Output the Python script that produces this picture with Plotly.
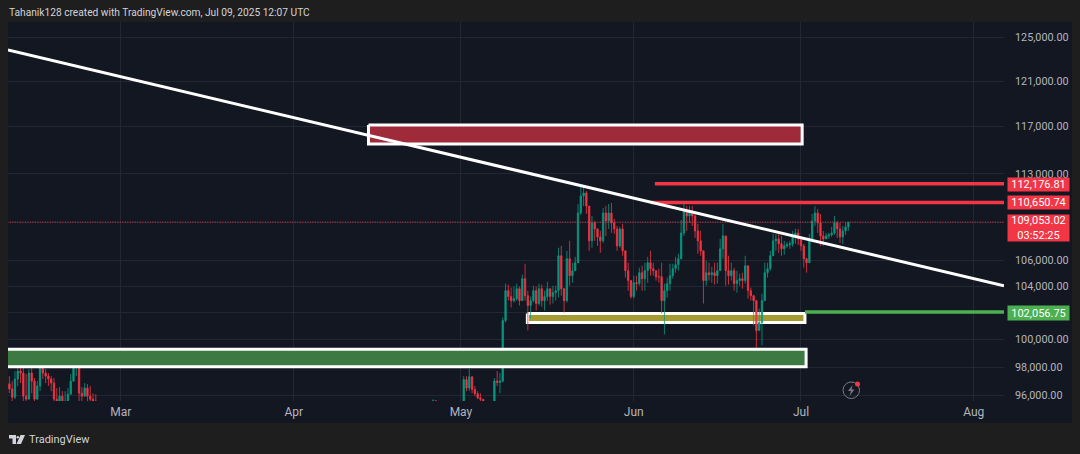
import math

import pandas as pd
import plotly.graph_objects as go

# feb candles (12h), lows run off the bottom of the pane
feb_open = [96800, 96430, 95850, 97140, 97710, 97570, 95920, 95710, 97570, 96990, 95710, 96640, 98300, 97570, 97350, 97140,
            96850, 95710, 95570, 95920, 95430, 95570, 96060, 96990, 98080, 98300, 96130, 95920, 96500, 95920, 95710, 95570]
feb_high = [97350, 96990, 97710, 98440, 98440, 98220, 97500, 97860, 97940, 97210, 96990, 98850, 97860, 97860, 97570, 97350,
            97210, 96500, 96570, 96275, 96275, 96500, 97500, 98440, 98700, 99390, 96570, 96850, 96780, 96640, 96130, 96060]
feb_low = [96130, 95000, 95710, 96640, 96850, 95000, 95000, 95990, 96130, 95000, 96060, 96275, 97140, 96850, 96640, 96275,
           95000, 95000, 95000, 95000, 95000, 95220, 96430, 97140, 97350, 95000, 95000, 96130, 95000, 95220, 95000, 95000]
feb_close = [96430, 95850, 97140, 97710, 97570, 95920, 95710, 97570, 96990, 95710, 96640, 98300, 97570, 97350, 97140, 96850,
             95710, 95570, 95920, 95430, 95570, 96060, 96990, 98080, 98300, 96130, 95920, 96500, 95920, 95710, 95570, 95430]

# late april to may 8, mostly under the pane
apr_open = [94300, 94500, 95600, 94500, 94200, 94400, 95000, 94700, 94500, 94100, 94000, 94300, 94500,
            97100, 96500, 97300, 96400, 96100, 95800, 95700, 95500, 94800, 94500, 95000, 97000, 96900]
apr_high = [94720, 95710, 95000, 94900, 94800, 94900, 95570, 94900, 94700, 94500, 94600, 94900, 97350,
            97350, 97860, 97140, 96640, 96275, 96130, 95710, 95300, 95000, 95200, 97210, 97710, 97570]
apr_low = [94170, 94300, 94000, 94000, 93900, 94100, 94500, 94200, 93800, 93600, 93700, 94000, 94300,
           96275, 96275, 96130, 95920, 95710, 95570, 95430, 94600, 94200, 94500, 95000, 96640, 96130]
apr_close = [94500, 95600, 94500, 94200, 94400, 94600, 94700, 94500, 94100, 94000, 94300, 94500, 97100,
             96500, 97300, 96400, 96100, 95800, 95700, 95500, 94800, 94500, 95000, 97000, 96900, 97000]

# may 8 12:00 to jul 9 12:00
main_high = [101650, 104220, 104140, 103910, 103990, 104220, 103990, 104910, 105760, 103680, 103230, 104060, 103990, 104220, 104140, 103680,
             104370, 103830, 104060, 104060, 107010, 107160, 103680, 106770, 107560, 105840, 106300, 110520, 111910, 111910, 111580, 110360,
             109550, 109150, 108510, 108350, 110200, 110360, 110520, 110600, 109310, 108750, 108670, 108910, 106460, 105840, 104220, 104830,
             104830, 105450, 105600, 105840, 106300, 106770, 105840, 105220, 105370, 105840, 104220, 104680, 105760, 105760, 106300, 106540,
             109230, 110520, 110360, 110360, 110360, 109710, 108910, 108350, 105760, 105990, 105840, 105520, 105840, 105840, 107710, 108910,
             107950, 106380, 105840, 105450, 105220, 104990, 105060, 106380, 104450, 103910, 103230, 102770, 102320, 103450, 105840, 105840,
             106770, 108110, 108110, 108110, 107950, 107560, 107480, 107560, 108350, 108510, 108510, 107870, 107320, 106220, 108110, 109710,
             110360, 110110, 109710, 108350, 108190, 108190, 108670, 109550, 109150, 108990, 108750, 108990, 108990]
main_low = [96900, 101280, 102920, 102400, 102770, 102920, 102550, 103150, 102920, 100680, 101570, 102770, 102170, 102550, 102470, 102170,
            102920, 102620, 102700, 102920, 103150, 103300, 102020, 102770, 104060, 104290, 105220, 106150, 109630, 110360, 109710, 106770,
            107010, 107560, 107160, 106610, 107400, 107950, 108510, 108190, 108110, 106770, 107010, 106380, 104680, 103680, 103070, 103070,
            103680, 104060, 103680, 103680, 104290, 104830, 104830, 104450, 104290, 101950, 100390, 103150, 103680, 104600, 105060, 105220,
            106300, 107950, 108350, 108990, 108750, 107790, 106540, 106380, 102700, 104060, 104450, 104290, 104140, 104220, 105840, 106150,
            104060, 104140, 104450, 103680, 103530, 104060, 103830, 104220, 103070, 102920, 101050, 98640, 100830, 99580, 102920, 104680,
            105220, 106380, 106770, 106610, 106380, 106460, 107010, 106930, 107090, 107320, 107240, 106770, 105450, 105060, 105840, 107560,
            108750, 108190, 107160, 107160, 107710, 107710, 107870, 108030, 107790, 107400, 107320, 108030, 108350]
main_close = [101420, 103680, 103230, 102920, 103070, 103830, 102920, 104600, 103300, 102550, 102920, 103680, 102700, 103830, 102920, 103230,
              103830, 103230, 103530, 103680, 106380, 103830, 102920, 106150, 104830, 105220, 105840, 109790, 111170, 111420, 110360, 107560,
              108990, 108510, 107870, 107560, 109790, 109150, 109790, 108990, 108510, 107160, 108510, 106770, 105220, 104450, 103230, 104290,
              104220, 105060, 104600, 105220, 105840, 105370, 105220, 104750, 104750, 102920, 103680, 104220, 104830, 105370, 105680, 106150,
              108190, 109950, 109550, 109950, 109550, 108350, 107560, 106770, 104450, 105060, 104910, 105060, 104830, 105220, 106930, 107950,
              105220, 104830, 105220, 104220, 104450, 104600, 104450, 105600, 103680, 103300, 102920, 100680, 101280, 102920, 105060, 105370,
              106380, 107560, 107710, 107320, 106930, 107160, 107240, 107320, 107870, 108190, 107710, 107160, 106150, 105840, 107710, 109150,
              109790, 108990, 107950, 107710, 107950, 108030, 108190, 108990, 108510, 107870, 108350, 108670, 109053]
main_open = [97000, 101420, 103680, 103230, 102920, 103070, 103830, 102920, 104600, 103300, 102550, 102920, 103680, 102700, 103830, 102920,
             103230, 103830, 103230, 103530, 103680, 106380, 103830, 102920, 106150, 104830, 105220, 105840, 109790, 111170, 111420, 110360,
             107560, 108990, 108510, 107870, 107560, 109790, 109150, 109790, 108990, 108510, 107160, 108510, 106770, 105220, 104450, 103230,
             104290, 104220, 105060, 104600, 105220, 105840, 105370, 105220, 104750, 104750, 102920, 103680, 104220, 104830, 105370, 105680,
             106150, 108190, 109950, 109550, 109950, 109550, 108350, 107560, 106770, 104450, 105060, 104910, 105060, 104830, 105220, 106930,
             107950, 105220, 104830, 105220, 104220, 104450, 104600, 104450, 105600, 103680, 103300, 102920, 100680, 101280, 102920, 105060,
             105370, 106380, 107560, 107710, 107320, 106930, 107160, 107240, 107320, 107870, 108190, 107710, 107160, 106150, 105840, 107710,
             109150, 109790, 108990, 107950, 107710, 107950, 108030, 108190, 108990, 108510, 107870, 108350, 108670]

# trend line and price levels
trend_dates = ["2025-02-08 18:00", "2025-08-06 10:00"]
trend_prices = [123810, 104050]
last_price = 109053.02
level_red_top = 112176.81
level_red_low = 110650.74
level_green = 102056.75
level_red_top_start = "2025-06-04 19:00"
level_red_low_start = "2025-06-04 02:00"
level_green_start = "2025-07-01 17:00"
level_end = "2025-08-06 10:00"

# zones: dates, top, bottom
supply_dates = ["2025-04-14 10:00", "2025-07-01 05:00"]
supply_prices = [117150, 115520]
yellow_dates = ["2025-05-12 22:00", "2025-07-01 17:00"]
yellow_prices = [101950, 101270]
demand_dates = ["2025-02-01 00:00", "2025-07-01 22:00"]
demand_prices = [99300, 98030]

y_ticks = [125000, 121000, 117000, 113000, 109000, 106000, 104000, 102000, 100000, 98000, 96000]
y_labels = ["125,000.00", "121,000.00", "117,000.00", "113,000.00", "", "106,000.00", "104,000.00", "", "100,000.00", "98,000.00", "96,000.00"]
x_ticks = ["2025-03-01", "2025-04-01", "2025-05-01", "2025-06-01", "2025-07-01", "2025-08-01"]
x_labels = ["Mar", "Apr", "May", "Jun", "Jul", "Aug"]

UP = "#089981"
DOWN = "#f23645"
PANE = "#131722"
OUTER = "#1e1e1e"
WHITE = "#ffffff"
FONT = "Roboto"

W, H = 1080, 454
L, R, T, B = 8, 1004, 22, 401


def px(x):
    return (x - L) / (R - L)


def py(y):
    return (B - y) / (B - T)


def zone(dates, prices, fill, z):
    return go.Scatter(
        x=[dates[0], dates[1], dates[1], dates[0], dates[0]],
        y=[prices[0], prices[0], prices[1], prices[1], prices[0]],
        mode="lines",
        fill="toself",
        fillcolor=fill,
        line=dict(color=WHITE, width=3),
        hoverinfo="skip",
        showlegend=False,
        zorder=z,
    )


def level(start, price, color):
    return go.Scatter(
        x=[start, level_end],
        y=[price, price],
        mode="lines",
        line=dict(color=color, width=3.5),
        hoverinfo="skip",
        showlegend=False,
        zorder=3,
    )


def candles(dates, o, h, l, c):
    return go.Candlestick(
        x=dates,
        open=o,
        high=h,
        low=l,
        close=c,
        increasing=dict(line=dict(color=UP, width=0.8), fillcolor=UP),
        decreasing=dict(line=dict(color=DOWN, width=0.8), fillcolor=DOWN),
        hoverinfo="skip",
        showlegend=False,
        zorder=1,
    )


def tag(y_px, text, color, height):
    return dict(
        x=px(1007),
        y=py(y_px),
        xref="paper",
        yref="paper",
        xanchor="left",
        yanchor="middle",
        text=text,
        showarrow=False,
        width=61,
        height=height,
        bgcolor=color,
        borderpad=0,
        align="center",
        font=dict(family=FONT, size=11, color="#ffffff"),
    )


fig = go.Figure()

fig.add_trace(zone(yellow_dates, yellow_prices, "#a69b30", 0))
fig.add_trace(candles(pd.date_range("2025-02-09", periods=len(feb_open), freq="12h"), feb_open, feb_high, feb_low, feb_close))
fig.add_trace(candles(pd.date_range("2025-04-25 12:00", periods=len(apr_open), freq="12h"), apr_open, apr_high, apr_low, apr_close))
fig.add_trace(candles(pd.date_range("2025-05-08 12:00", periods=len(main_open), freq="12h"), main_open, main_high, main_low, main_close))
fig.add_trace(zone(demand_dates, demand_prices, "#3d7a43", 2))
fig.add_trace(zone(supply_dates, supply_prices, "#9e2a3a", 2))

fig.add_trace(go.Scatter(
    x=["2025-02-01", level_end],
    y=[last_price, last_price],
    mode="lines",
    line=dict(color=DOWN, width=1, dash="1px,1.5px"),
    hoverinfo="skip",
    showlegend=False,
    zorder=2,
))
fig.add_trace(level(level_red_top_start, level_red_top, DOWN))
fig.add_trace(level(level_red_low_start, level_red_low, DOWN))
fig.add_trace(level(level_green_start, level_green, "#4caf50"))
fig.add_trace(go.Scatter(
    x=trend_dates,
    y=trend_prices,
    mode="lines",
    line=dict(color=WHITE, width=3),
    hoverinfo="skip",
    showlegend=False,
    zorder=3,
))

# price scale and time scale panels sit behind the plot
shapes = [
    dict(type="rect", xref="paper", yref="paper", x0=px(L), x1=px(1072), y0=py(423), y1=py(T),
         fillcolor=PANE, line_width=0, layer="below"),
    # tradingview mark
    dict(type="path", xref="paper", yref="paper", layer="above", fillcolor="#d1d4dc", line_width=0,
         path=f"M {px(9)} {py(435)} L {px(16)} {py(435)} L {px(16)} {py(444)} L {px(12.5)} {py(444)} L {px(12.5)} {py(438.5)} L {px(9)} {py(438.5)} Z"),
    dict(type="circle", xref="paper", yref="paper", layer="above", fillcolor="#d1d4dc", line_width=0,
         x0=px(16.5), x1=px(19), y0=py(438.5), y1=py(436)),
    dict(type="path", xref="paper", yref="paper", layer="above", fillcolor="#d1d4dc", line_width=0,
         path=f"M {px(20.5)} {py(435)} L {px(25)} {py(435)} L {px(21)} {py(444)} L {px(16.5)} {py(444)} Z"),
    # lightning badge
    dict(type="circle", xref="paper", yref="paper", layer="above", fillcolor="rgba(0,0,0,0)",
         line=dict(color="#787b86", width=1), x0=px(843), x1=px(859.5), y0=py(398.5), y1=py(382)),
    dict(type="path", xref="paper", yref="paper", layer="above", fillcolor="#787b86", line_width=0,
         path=f"M {px(852.5)} {py(385)} L {px(848)} {py(391)} L {px(851)} {py(391)} L {px(849.5)} {py(396)} L {px(854.5)} {py(389.5)} L {px(851.5)} {py(389.5)} Z"),
    dict(type="circle", xref="paper", yref="paper", layer="above", fillcolor=DOWN, line_width=0,
         x0=px(855), x1=px(860), y0=py(386.5), y1=py(381.5)),
]

annotations = [
    dict(x=px(7), y=py(12), xref="paper", yref="paper", xanchor="left", yanchor="middle", showarrow=False,
         text="Tahanik128 created with TradingView.com, Jul 09, 2025 12:07 UTC",
         font=dict(family=FONT, size=10.2, color="#d1d4dc")),
    dict(x=px(26.5), y=py(439), xref="paper", yref="paper", xanchor="left", yanchor="middle", showarrow=False,
         text="TradingView", font=dict(family=FONT, size=11, color="#d1d4dc")),
    tag(184, "112,176.81", DOWN, 13),
    tag(202.5, "110,650.74", DOWN, 13),
    tag(228, "109,053.02<br>03:52:25", DOWN, 26),
    tag(312.5, "102,056.75", "#4caf50", 14),
]

fig.update_layout(
    width=W,
    height=H,
    margin=dict(l=L, r=W - R, t=T, b=H - B),
    paper_bgcolor=OUTER,
    plot_bgcolor=PANE,
    showlegend=False,
    shapes=shapes,
    annotations=annotations,
    font=dict(family=FONT, size=11, color="#b2b5be"),
    xaxis=dict(
        type="date",
        range=["2025-02-08 18:00", "2025-08-06 10:00"],
        tickmode="array",
        tickvals=x_ticks,
        ticktext=x_labels,
        tickangle=0,
        ticks="",
        ticklabelstandoff=2,
        showgrid=True,
        gridcolor="#232733",
        gridwidth=1,
        zeroline=False,
        showline=False,
        rangeslider=dict(visible=False),
        tickfont=dict(family=FONT, size=12, color="#b2b5be"),
    ),
    yaxis=dict(
        type="log",
        side="right",
        range=[math.log10(95580), math.log10(126390)],
        tickmode="array",
        tickvals=y_ticks,
        ticktext=y_labels,
        ticks="",
        ticklabelstandoff=10,
        showgrid=True,
        gridcolor="#232733",
        gridwidth=1,
        zeroline=False,
        showline=False,
        tickfont=dict(family=FONT, size=10.8, color="#b2b5be"),
    ),
)

fig.write_html(
    "out.html",
    config={"displaylogo": False, "displayModeBar": False},
    post_script="document.body.style.margin='0';document.body.style.background='#1e1e1e';document.body.style.overflow='hidden';",
)
